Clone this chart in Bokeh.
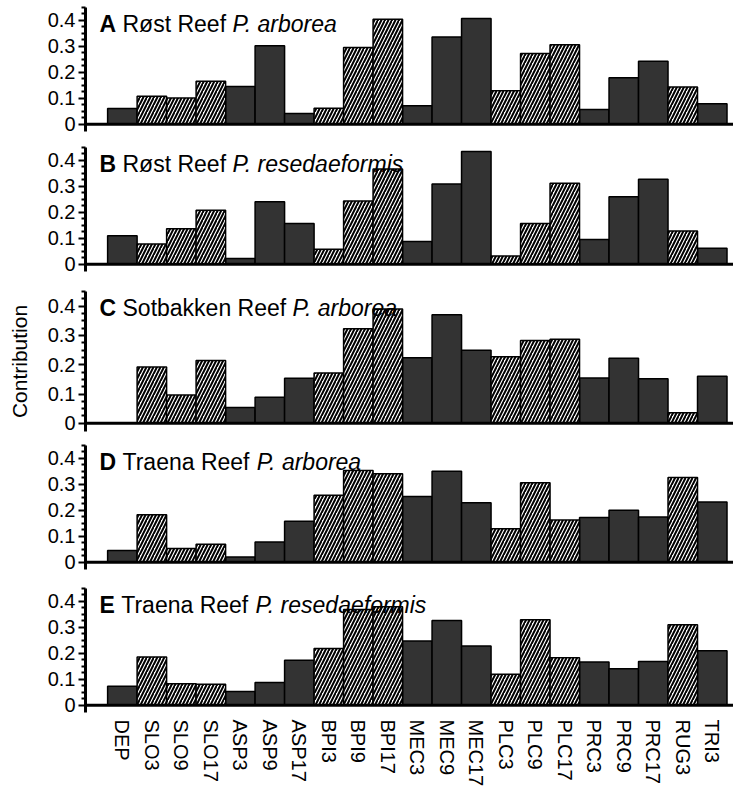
import numpy as np
from bokeh.plotting import figure
from bokeh.layouts import column
from bokeh.models import ColumnDataSource, FixedTicker, Range1d, Span, Label
from bokeh.embed import file_html
from bokeh.resources import INLINE

# ---------------- data ----------------
categories = ["DEP", "SLO3", "SLO9", "SLO17", "ASP3", "ASP9", "ASP17", "BPI3", "BPI9", "BPI17",
              "MEC3", "MEC9", "MEC17", "PLC3", "PLC9", "PLC17", "PRC3", "PRC9", "PRC17", "RUG3", "TRI3"]
hatched_categories = ["SLO3", "SLO9", "SLO17", "BPI3", "BPI9", "BPI17", "PLC3", "PLC9", "PLC17", "RUG3"]

rost_arborea = [0.061, 0.108, 0.101, 0.166, 0.145, 0.303, 0.041, 0.062, 0.296, 0.405, 0.071,
                0.336, 0.408, 0.129, 0.273, 0.306, 0.057, 0.179, 0.243, 0.144, 0.079]
rost_resedaeformis = [0.110, 0.078, 0.137, 0.208, 0.022, 0.241, 0.157, 0.058, 0.244, 0.367, 0.088,
                      0.309, 0.435, 0.032, 0.157, 0.312, 0.095, 0.260, 0.328, 0.128, 0.062]
sotbakken_arborea = [0.0, 0.192, 0.097, 0.214, 0.054, 0.089, 0.154, 0.172, 0.323, 0.390, 0.224,
                     0.371, 0.249, 0.227, 0.283, 0.287, 0.155, 0.222, 0.152, 0.036, 0.161]
traena_arborea = [0.045, 0.183, 0.053, 0.069, 0.020, 0.078, 0.158, 0.258, 0.354, 0.341, 0.253,
                  0.351, 0.229, 0.129, 0.306, 0.163, 0.172, 0.200, 0.174, 0.327, 0.232]
traena_resedaeformis = [0.073, 0.186, 0.083, 0.081, 0.053, 0.088, 0.173, 0.219, 0.369, 0.380, 0.248,
                        0.327, 0.228, 0.119, 0.330, 0.183, 0.167, 0.141, 0.169, 0.310, 0.210]

panel_letters = ["A", "B", "C", "D", "E"]
panel_sites = ["Røst Reef", "Røst Reef", "Sotbakken Reef", "Traena Reef", "Traena Reef"]
panel_species = ["P. arborea", "P. resedaeformis", "P. arborea", "P. arborea", "P. resedaeformis"]
y_ticks = [0, 0.1, 0.2, 0.3, 0.4]
y_tick_labels = ["0", "0.1", "0.2", "0.3", "0.4"]
y_label = "Contribution"

series = [rost_arborea, rost_resedaeformis, sotbakken_arborea, traena_arborea, traena_resedaeformis]

# ---------------- styling / layout ----------------
FONT = "Liberation Sans"
TITLE_FS = 23
X_START, X_END = -1.25, 20.72
Y_START, Y_END = -0.028, 0.45
FRAME_W = 648
LEFT = 85
frame_heights = [124, 124, 140, 124, 124]
top_borders = [7, 11, 15, 9, 14]
bottom_borders = [5, 5, 5, 5, 74]
minor = [round(0.025 * k, 3) for k in range(1, 19) if k % 4 != 0]

# Arial / Liberation Sans advance widths (per 1000 em)
W_REG = {" ": 278, "R": 722, "ø": 611, "s": 500, "t": 278, "e": 556, "f": 278, "S": 667,
         "o": 556, "b": 556, "a": 556, "k": 500, "n": 556, "T": 611, "r": 333}
W_BOLD = {"A": 722, "B": 722, "C": 722, "D": 722, "E": 667, " ": 278}


def tw(s, table, fs):
    return sum(table.get(ch, 556) for ch in s) / 1000.0 * fs


x_idx = np.arange(len(categories))
is_hatched = np.array([c in hatched_categories for c in categories])

figs = []
for i, vals in enumerate(series):
    fh = frame_heights[i]
    last = (i == len(series) - 1)
    p = figure(frame_width=FRAME_W, frame_height=fh, output_backend="svg", toolbar_location=None,
               x_range=Range1d(X_START, X_END), y_range=Range1d(Y_START, Y_END),
               min_border=0, min_border_left=LEFT, min_border_right=0,
               min_border_top=top_borders[i], min_border_bottom=bottom_borders[i])
    p.outline_line_color = None
    p.grid.visible = False
    p.background_fill_color = "white"
    p.border_fill_color = "white"

    v = np.array(vals)
    src_dark = ColumnDataSource(dict(x=x_idx[~is_hatched], top=v[~is_hatched]))
    src_hatch = ColumnDataSource(dict(x=x_idx[is_hatched], top=v[is_hatched]))
    p.vbar(x="x", top="top", bottom=0, width=1.0, source=src_dark,
           fill_color="#333333", line_color="black", line_width=1.5)
    p.vbar(x="x", top="top", bottom=0, width=1.0, source=src_hatch,
           fill_color="white", line_color="black", line_width=1.5,
           hatch_pattern="/", hatch_color="black", hatch_scale=7, hatch_weight=2)

    p.add_layout(Span(location=0, dimension="width", line_color="black", line_width=3))

    ya = p.yaxis[0]
    ya.ticker = FixedTicker(ticks=y_ticks, minor_ticks=minor)
    ya.major_label_overrides = {t: l for t, l in zip(y_ticks, y_tick_labels)}
    ya.axis_line_width = 3
    ya.axis_line_color = "black"
    ya.major_tick_line_width = 2
    ya.minor_tick_line_width = 2
    ya.major_tick_out = 7
    ya.major_tick_in = 0
    ya.minor_tick_out = 4
    ya.minor_tick_in = 0
    ya.major_label_standoff = 3
    ya.major_label_text_font = FONT
    ya.major_label_text_font_size = "20px"
    ya.major_label_text_color = "black"
    if i == 2:
        ya.axis_label = y_label
        ya.axis_label_text_font = FONT
        ya.axis_label_text_font_size = "21px"
        ya.axis_label_text_font_style = "normal"
        ya.axis_label_text_color = "black"
        ya.axis_label_standoff = 14

    xa = p.xaxis[0]
    if last:
        xa.ticker = FixedTicker(ticks=[int(k) for k in x_idx])
        xa.major_label_overrides = {int(k): c for k, c in zip(x_idx, categories)}
        xa.major_label_orientation = "vertical"
        xa.axis_line_color = None
        xa.major_tick_line_color = None
        xa.minor_tick_line_color = None
        xa.major_label_standoff = 1
        xa.major_label_text_font = FONT
        xa.major_label_text_font_size = "20px"
        xa.major_label_text_color = "black"
    else:
        xa.visible = False

    # panel title: bold letter, regular site, italic species
    scale = fh / (Y_END - Y_START)
    base_y = Y_END - 16.0 / scale
    x0 = 14
    letter = panel_letters[i]
    site = panel_sites[i]
    species = panel_species[i]
    off_site = x0 + tw(letter + " ", W_BOLD, TITLE_FS)
    off_species = off_site + tw(site + " ", W_REG, TITLE_FS)
    for txt, off, style in [(letter, x0, "bold"), (site, off_site, "normal"), (species, off_species, "italic")]:
        p.add_layout(Label(x=X_START, y=base_y, x_offset=off, text=txt, text_font=FONT,
                           text_font_size=f"{TITLE_FS}px", text_font_style=style,
                           text_color="black", text_baseline="alphabetic", text_align="left"))
    figs.append(p)

layout = column(*figs, spacing=0)
open("out.html", "w").write(file_html(layout, INLINE))
